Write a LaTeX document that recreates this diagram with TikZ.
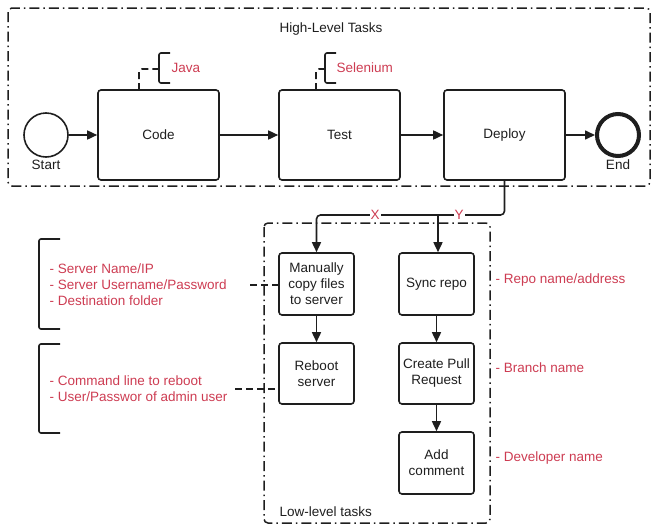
\documentclass[tikz,border=0pt]{standalone}
\usepackage{fontspec}
\setmainfont{Liberation Sans}
\usetikzlibrary{arrows.meta}
\definecolor{annot}{RGB}{205,60,82}
\definecolor{ink}{RGB}{30,30,30}
\tikzset{
  ddot/.style={draw=ink, line width=1.5pt, dash pattern=on 10pt off 4pt on 1.5pt off 4pt, rounded corners=4pt},
  task/.style={draw=ink, line width=1.6pt, rounded corners=3pt, align=center, inner sep=0pt, font=\fontsize{13.5}{16}\selectfont, text=ink},
  ev/.style={circle, draw=ink, inner sep=0pt, minimum size=44pt},
  flow/.style={draw=ink, line width=1.6pt, -{Triangle[length=10pt,width=9pt]}},
  lbl/.style={font=\fontsize{13.5}{16}\selectfont, text=ink},
  red/.style={font=\fontsize{13.5}{16}\selectfont, text=annot},
  brk/.style={draw=ink, line width=1.6pt},
  assoc/.style={draw=ink, line width=1.6pt, dash pattern=on 7pt off 4pt},
}
\begin{document}
\begin{tikzpicture}[x=1pt,y=-1pt]
\useasboundingbox (0,0) rectangle (651,525);
% containers
\draw[ddot] (8,8) rectangle (650,186);
\draw[ddot] (264,223) rectangle (490,523);
\node[lbl] (hl) at (331,29) {High-Level Tasks};
\node[lbl, anchor=west] (ll) at (276,512) {Low-level tasks};
% high-level
\node[ev, line width=1.6pt] (start) at (46,135) {};
\node[lbl] (startl) at (46,165) {Start};
\node[task, minimum width=121pt, minimum height=90pt] (code) at (158.5,135) {Code};
\node[task, minimum width=121pt, minimum height=90pt] (test) at (339.5,135) {Test};
\node[task, minimum width=121pt, minimum height=90pt] (deploy) at (504.5,135) {Deploy};
\node[ev, line width=4pt, minimum size=42pt] (end) at (618,135) {};
\node[lbl] (endl) at (618,165) {End};
\draw[flow] (start) -- (code);
\draw[flow] (code) -- (test);
\draw[flow] (test) -- (deploy);
\draw[flow] (deploy) -- (end);
% Java annotation
\coordinate (jv) at (139,90);
\draw[assoc, rounded corners=3pt] (jv) -- (139,69) -- (159,69);
\draw[brk, rounded corners=2pt] (170,53) -- (159,53) -- (159,83) -- (170,83);
\node[red, anchor=west] (java) at (168,68) {Java};
% Selenium annotation
\coordinate (sv) at (316,90);
\draw[assoc, rounded corners=3pt] (sv) -- (316,69) -- (325,69);
\draw[brk, rounded corners=2pt] (336,53) -- (325,53) -- (325,83) -- (336,83);
\node[red, anchor=west] (sel) at (333,68) {Selenium};
% low-level tasks
\node[task, minimum width=75pt, minimum height=62pt] (copy) at (316.5,284) {Manually\\copy files\\to server};
\node[task, minimum width=75pt, minimum height=61pt] (reboot) at (316.5,373.5) {Reboot\\server};
\node[task, minimum width=75pt, minimum height=62pt] (sync) at (436.5,284) {Sync repo};
\node[task, minimum width=75pt, minimum height=61pt] (pr) at (436.5,373.5) {Create Pull\\Request};
\node[task, minimum width=75pt, minimum height=62pt] (addc) at (436.5,463) {Add\\comment};
\coordinate (split) at (438,215);
\draw[flow, rounded corners=4pt] (deploy.south) -- (504.5,215) -- (316.5,215) -- (copy.north);
\draw[flow] (split) -- (sync.north -| split);
\node[red, fill=white, inner sep=1pt] (xl) at (375,215) {X};
\node[red, fill=white, inner sep=1pt] (yl) at (459,215) {Y};
\draw[flow] (copy) -- (reboot);
\draw[flow] (sync) -- (pr);
\draw[flow] (pr) -- (addc);
% left annotations
\draw[brk, rounded corners=2pt] (60,239) -- (39,239) -- (39,329) -- (60,329);
\draw[brk, rounded corners=2pt] (60,344) -- (39,344) -- (39,433) -- (60,433);
\node[red, anchor=west, align=left] (srv) at (46,285) {- Server Name/IP\\- Server Username/Password\\- Destination folder};
\node[red, anchor=west, align=left] (cmd) at (46,389) {- Command line to reboot\\- User/Passwor of admin user};
\coordinate (a1) at (250,285);
\coordinate (a2) at (235,389);
\draw[assoc] (a1) -- (copy.west |- a1);
\draw[assoc] (a2) -- (reboot.west |- a2);
% right annotations
\node[red, anchor=west] (repo) at (492,280) {- Repo name/address};
\node[red, anchor=west] (branch) at (492,368) {- Branch name};
\node[red, anchor=west] (dev) at (492,458) {- Developer name};
\end{tikzpicture}
\end{document}
